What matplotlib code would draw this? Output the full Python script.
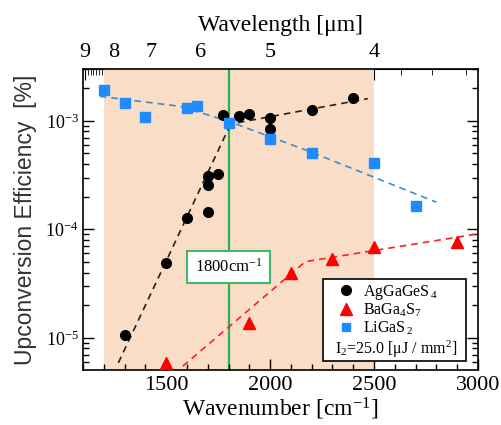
import numpy as np
import matplotlib
matplotlib.use('Agg')
import matplotlib.pyplot as plt
from matplotlib.ticker import LogLocator, FixedLocator, NullFormatter, LogFormatterMathtext, MultipleLocator
from matplotlib.lines import Line2D
from matplotlib.patches import Rectangle

plt.rcParams['font.family'] = ['Liberation Serif', 'DejaVu Serif']
plt.rcParams['mathtext.fontset'] = 'custom'
plt.rcParams['mathtext.rm'] = 'Liberation Serif'
plt.rcParams['mathtext.it'] = 'Liberation Serif:italic'
plt.rcParams['mathtext.bf'] = 'Liberation Serif:bold'

# AgGaGeS4
ag_x = [1300, 1500, 1600, 1700, 1700, 1700, 1750, 1775, 1850, 1900, 2000, 2000, 2200, 2400]
ag_y = [1.06e-5, 4.9e-5, 1.26e-4, 1.46e-4, 2.57e-4, 3.13e-4, 3.25e-4, 1.14e-3, 1.10e-3,
        1.15e-3, 1.07e-3, 8.4e-4, 1.27e-3, 1.63e-3]
ag_fit1_x = [1270, 1800]
ag_fit1_y = [5.9e-6, 8.5e-4]
ag_fit2_x = [1790, 2470]
ag_fit2_y = [9.2e-4, 1.6e-3]

# BaGa4S7
ba_x = [1500, 1900, 2100, 2300, 2500, 2900]
ba_y = [5.9e-6, 1.36e-5, 3.94e-5, 5.3e-5, 6.85e-5, 7.7e-5]
ba_fit_x = [1580, 2170, 3000]
ba_fit_y = [5.5e-6, 5.05e-5, 9.1e-5]

# LiGaS2
li_x = [1200, 1300, 1400, 1600, 1650, 1800, 2000, 2200, 2500, 2700]
li_y = [1.93e-3, 1.46e-3, 1.095e-3, 1.30e-3, 1.37e-3, 9.6e-4, 6.8e-4, 5.1e-4, 4.1e-4, 1.65e-4]
li_fit_x = [1180, 1566, 1800, 2192, 2800]
li_fit_y = [1.68e-3, 1.36e-3, 9.9e-4, 5.2e-4, 1.78e-4]

wl_major = [4, 5, 6, 7, 8, 9]
wl_minor = [3.4, 3.6, 3.8, 4.2, 4.4, 4.6, 4.8, 5.2, 5.4, 5.6, 5.8, 6.2, 6.4, 6.6, 6.8,
            7.2, 7.4, 7.6, 7.8, 8.2, 8.4, 8.5, 8.6, 8.7, 8.8, 8.9, 9.1]

fig = plt.figure(figsize=(5.02, 4.25), dpi=100)
ax = fig.add_axes([83/502, 55/425, 395/502, 301/425])

ax.axvspan(1200, 2500, color='#FADDC6', lw=0, zorder=0.5)
ax.axvline(1800, color='#2DB04F', lw=1.6, zorder=1)

ax.plot(ag_fit1_x, ag_fit1_y, ls=(0, (4, 3)), color='#222222', lw=1.2, zorder=2)
ax.plot(ag_fit2_x, ag_fit2_y, ls=(0, (4, 3)), color='#222222', lw=1.2, zorder=2)
ax.plot(ba_fit_x, ba_fit_y, ls=(0, (4, 3)), color='#FF2020', lw=1.2, zorder=2)
ax.plot(li_fit_x, li_fit_y, ls=(0, (4, 3)), color='#3A8FD0', lw=1.2, zorder=2)

ax.plot(ag_x, ag_y, 'o', color='black', ms=7, zorder=3)
ax.plot(ba_x, ba_y, '^', color='#FF0000', ms=8, zorder=3)
ax.plot(li_x, li_y, 's', color='#1E8CFF', ms=7, zorder=3)

ax.set_xscale('linear')
ax.set_yscale('log')
ax.set_xlim(1100, 3000)
ax.set_ylim(5.07e-6, 3.0e-3)

ax.xaxis.set_major_locator(FixedLocator([1500, 2000, 2500, 3000]))
ax.xaxis.set_minor_locator(MultipleLocator(100))
ax.yaxis.set_major_locator(LogLocator(base=10, numticks=10))
ax.yaxis.set_minor_locator(LogLocator(base=10, subs=np.arange(2, 10), numticks=20))
ax.yaxis.set_minor_formatter(NullFormatter())
ax.yaxis.set_major_formatter(LogFormatterMathtext())

ax.tick_params(axis='both', which='both', direction='in', top=False, right=True, width=1.0)
ax.tick_params(axis='both', which='major', length=8)
ax.tick_params(axis='both', which='minor', length=4)
ax.tick_params(axis='x', labelsize=16, pad=4)
ax.tick_params(axis='y', labelsize=13, pad=3)
for s in ax.spines.values():
    s.set_linewidth(1.2)

ax.set_xlabel('Wavenumber [cm$^{-1}$]', fontsize=17, labelpad=1)
ax.set_ylabel('Upconversion Efficiency  [%]', fontsize=16.5, family='Liberation Sans',
              color='#333333', labelpad=6)

sec = ax.secondary_xaxis('top', functions=(lambda x: 1e4 / x, lambda x: 1e4 / x))
sec.xaxis.set_major_locator(FixedLocator(wl_major))
sec.xaxis.set_minor_locator(FixedLocator(wl_minor))
sec.tick_params(axis='x', which='both', direction='in', labelsize=16, pad=5)
sec.tick_params(axis='x', which='major', length=8)
sec.tick_params(axis='x', which='minor', length=4)
sec.set_xlabel('Wavelength [μm]', fontsize=17, labelpad=9)

# annotation box
ax.text(1800, 4.5e-5, '1800cm$^{-1}$', ha='center', va='center', fontsize=12,
        bbox=dict(boxstyle='square,pad=0.45', fc='white', ec='#3CB96A', lw=1.5), zorder=4)

# legend
ax.add_patch(Rectangle((0.608, 0.03), 0.362, 0.272, transform=ax.transAxes,
                       fc='white', ec='black', lw=1.2, zorder=5))
handles = [Line2D([], [], ls='none', marker='o', color='black', ms=7),
           Line2D([], [], ls='none', marker='^', color='#FF0000', ms=8),
           Line2D([], [], ls='none', marker='s', color='#1E8CFF', ms=6)]
labels = ['AgGaGeS$\\,_4$', 'BaGa$_4$S$_7$', 'LiGaS$\\,_2$']
leg = ax.legend(handles, labels, loc='upper left', bbox_to_anchor=(0.6456, 0.29),
                frameon=False, fontsize=11.5, handlelength=1.0, handletextpad=0.55,
                labelspacing=0.0, borderpad=0, borderaxespad=0)
leg.set_zorder(6)
ax.text(0.638, 0.07, 'I$_2$=25.0 [μJ / mm$^2$]', transform=ax.transAxes, ha='left',
        va='center', fontsize=11.5, zorder=6)

fig.savefig('out.png', dpi=100)
